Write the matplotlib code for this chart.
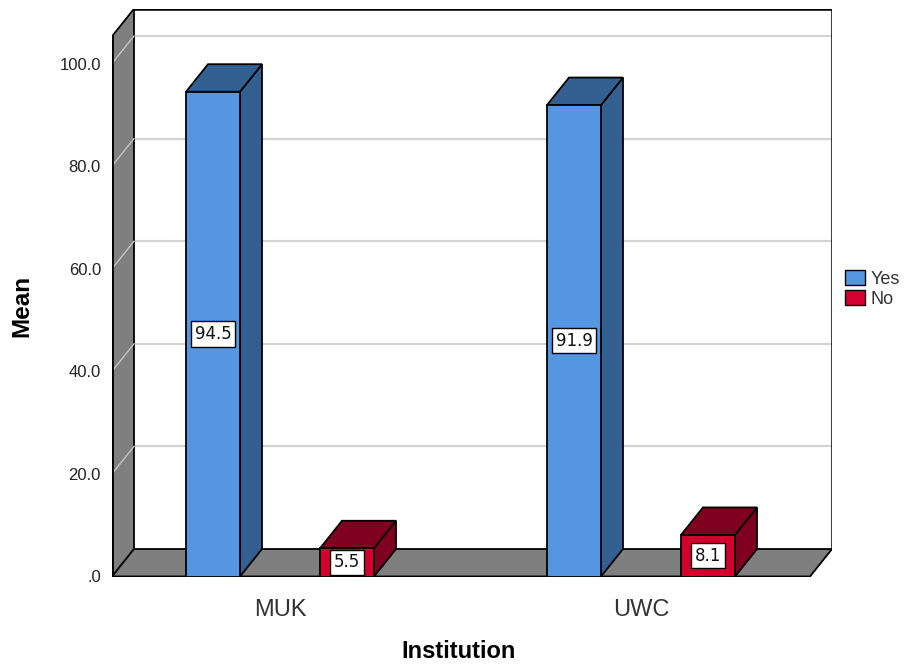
import matplotlib
matplotlib.use("Agg")
import matplotlib.pyplot as plt
from matplotlib.patches import Polygon, Patch

# ---- data -------------------------------------------------------------
categories = ["MUK", "UWC"]
series_names = ["Yes", "No"]
yes_means = [94.5, 91.9]
no_means = [5.5, 8.1]
y_ticks = [0, 20, 40, 60, 80, 100]
y_tick_labels = [".0", "20.0", "40.0", "60.0", "80.0", "100.0"]

# ---- style ------------------------------------------------------------
FRONT = {"Yes": "#5596e2", "No": "#d4002e"}
SHADE = {"Yes": "#345f91", "No": "#80001f"}
WALL = "#7f7f7f"
GRID = "#d3d3d3"
FONT = "Liberation Sans"

W, H = 906, 666
fig = plt.figure(figsize=(W / 100, H / 100), dpi=100)

# axes box spans the front plane plus the receding depth
px_left, px_right = 112, 832
px_bottom, px_top = 576.5, 9
ax = fig.add_axes([px_left / W, 1 - px_bottom / H,
                   (px_right - px_left) / W, (px_bottom - px_top) / H])

px_per_cat = 361.0       # distance between category centres
px_per_unit = 5.13       # pixels per unit of the mean
cat0_px = 280.0
x_lo = (px_left - cat0_px) / px_per_cat
x_hi = (px_right - cat0_px) / px_per_cat
ax.set_xlim(x_lo, x_hi)
ax.set_ylim(0, (px_bottom - px_top) / px_per_unit)

DX = 22.0 / px_per_cat          # depth offset in x data units
DY = 27.5 / px_per_unit         # depth offset in y data units
YMAX = 105.3                    # top of the front plane
x_front_right = x_hi - DX

bar_w = 54.0 / px_per_cat
bar_off = 67.0 / px_per_cat

for s in ax.spines.values():
    s.set_visible(False)
ax.set_facecolor("none")

edge = dict(edgecolor="black", linewidth=1.3, joinstyle="miter")

# back wall with grid
ax.add_patch(Polygon([(x_lo + DX, DY), (x_hi, DY), (x_hi, YMAX + DY), (x_lo + DX, YMAX + DY)],
                     closed=True, facecolor="white", edgecolor="none", zorder=1))
for t in y_ticks[1:]:
    ax.plot([x_lo + DX, x_hi], [t + DY, t + DY], color=GRID, lw=1.6, zorder=1.5,
            solid_capstyle="butt")
ax.plot([x_lo + DX, x_hi, x_hi], [YMAX + DY, YMAX + DY, DY], color="black", lw=1.8,
        zorder=2, solid_joinstyle="miter")

# left wall with grid
ax.add_patch(Polygon([(x_lo, 0), (x_lo + DX, DY), (x_lo + DX, YMAX + DY), (x_lo, YMAX)],
                     closed=True, facecolor=WALL, zorder=3, **edge))
for t in y_ticks:
    ax.plot([x_lo, x_lo + DX], [t, t + DY], color="#c4c4c4", lw=1.0, zorder=3.5)
ax.plot([x_lo, x_lo], [0, YMAX], color="black", lw=2.0, zorder=3.6)

# floor
ax.add_patch(Polygon([(x_lo, 0), (x_front_right, 0), (x_hi, DY), (x_lo + DX, DY)],
                     closed=True, facecolor=WALL, zorder=4, **edge))
ax.plot([x_lo, x_front_right], [0, 0], color="black", lw=2.2, zorder=4.5,
        solid_capstyle="butt")


def draw_box(xc, value, name, z):
    x0, x1 = xc - bar_w / 2, xc + bar_w / 2
    ax.add_patch(Polygon([(x1, 0), (x1 + DX, DY), (x1 + DX, value + DY), (x1, value)],
                         closed=True, facecolor=SHADE[name], zorder=z, **edge))
    ax.add_patch(Polygon([(x0, value), (x1, value), (x1 + DX, value + DY), (x0 + DX, value + DY)],
                         closed=True, facecolor=SHADE[name], zorder=z, **edge))
    ax.add_patch(Polygon([(x0, 0), (x1, 0), (x1, value), (x0, value)],
                         closed=True, facecolor=FRONT[name], zorder=z + 0.1, **edge))
    ax.text(xc, value / 2, f"{value:.1f}", ha="center", va="center",
            fontsize=12, family="DejaVu Sans", color="#111111", zorder=z + 0.2,
            bbox=dict(boxstyle="square,pad=0.22", facecolor="white",
                      edgecolor="black", linewidth=1.0))


z = 5
for i, cat in enumerate(categories):
    draw_box(i - bar_off, yes_means[i], "Yes", z)
    z += 1
    draw_box(i + bar_off, no_means[i], "No", z)
    z += 1

# axes ticks
ax.set_yticks(y_ticks, y_tick_labels)
ax.set_xticks(range(len(categories)), categories)
ax.tick_params(axis="y", length=0, pad=8, labelsize=12, labelcolor="#222222")
ax.tick_params(axis="x", length=0, pad=16, labelsize=17, labelcolor="#333333")
for lab in ax.get_yticklabels() + ax.get_xticklabels():
    lab.set_family(FONT)

fig.text(459 / W, 1 - 651 / H, "Institution", ha="center", va="center",
         fontsize=17, fontweight="bold", family=FONT)
fig.text(22 / W, 1 - 306 / H, "Mean", ha="center", va="center", rotation=90,
         fontsize=17.5, fontweight="bold", family=FONT)

handles = [Patch(facecolor=FRONT[n], edgecolor="black", linewidth=1.0) for n in series_names]
fig.legend(handles, series_names, loc="upper left", bbox_to_anchor=(838 / W, 1 - 263 / H),
           frameon=False, prop={"family": FONT, "size": 13}, handlelength=1.1,
           handleheight=0.85, handletextpad=0.3, labelspacing=0.15, borderaxespad=0,
           labelcolor="#333333")

fig.savefig("out.png", dpi=100)
